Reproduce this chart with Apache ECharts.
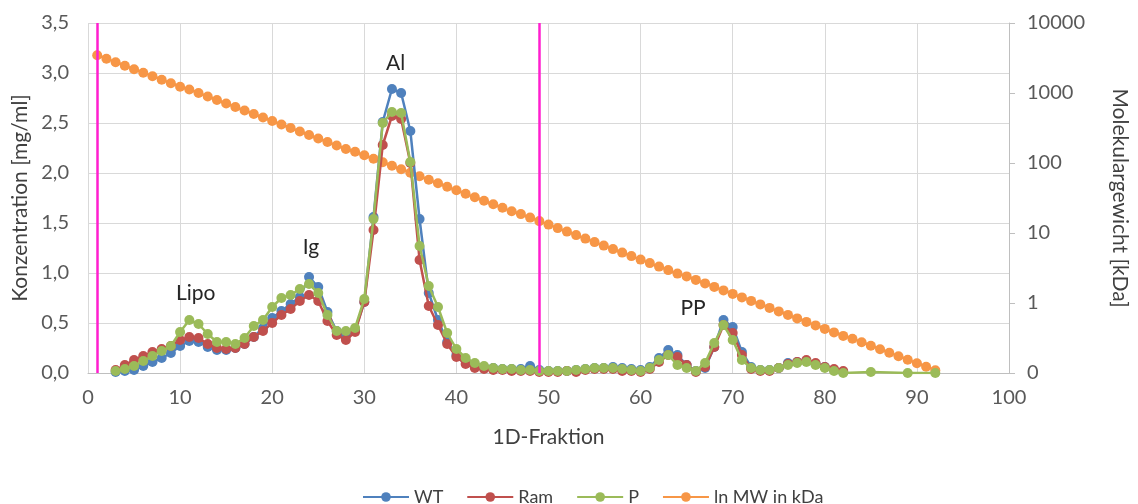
<!DOCTYPE html>
<html>
<head>
<meta charset="utf-8">
<script src="https://cdn.jsdelivr.net/npm/echarts@6/dist/echarts.min.js"></script>
<style>html,body{margin:0;padding:0;background:#fff;}#c{width:1138px;height:504px;}</style>
</head>
<body>
<div id="c"></div>
<script>
// Fractions for WT / Ram / P (3..82)
const fractions = [3,4,5,6,7,8,9,10,11,12,13,14,15,16,17,18,19,20,21,22,23,24,25,26,27,28,29,30,31,32,33,34,35,36,37,38,39,40,41,42,43,44,45,46,47,48,49,50,51,52,53,54,55,56,57,58,59,60,61,62,63,64,65,66,67,68,69,70,71,72,73,74,75,76,77,78,79,80,81,82];
const wtValues = [0.01,0.02,0.03,0.07,0.11,0.15,0.20,0.27,0.32,0.31,0.26,0.23,0.23,0.25,0.29,0.36,0.45,0.55,0.62,0.69,0.76,0.96,0.86,0.61,0.42,0.37,0.43,0.71,1.56,2.51,2.84,2.80,2.42,1.54,0.80,0.53,0.31,0.18,0.12,0.08,0.06,0.05,0.04,0.04,0.04,0.07,0.03,0.02,0.02,0.02,0.03,0.04,0.05,0.05,0.06,0.05,0.04,0.03,0.06,0.15,0.23,0.18,0.08,0.02,0.05,0.26,0.53,0.46,0.21,0.06,0.03,0.03,0.05,0.10,0.11,0.12,0.09,0.06,0.03,0.01];
const ramValues = [0.03,0.08,0.13,0.17,0.21,0.24,0.27,0.33,0.36,0.35,0.29,0.25,0.24,0.25,0.29,0.36,0.42,0.50,0.58,0.64,0.72,0.78,0.72,0.52,0.38,0.33,0.41,0.71,1.43,2.28,2.57,2.54,2.10,1.13,0.67,0.48,0.29,0.16,0.09,0.05,0.04,0.03,0.03,0.02,0.02,0.02,0.01,0.01,0.01,0.02,0.01,0.03,0.04,0.04,0.04,0.02,0.02,0.01,0.04,0.11,0.18,0.16,0.08,0.01,0.06,0.26,0.48,0.40,0.18,0.04,0.02,0.02,0.05,0.09,0.11,0.13,0.10,0.06,0.04,0.02];
const pValues = [0.02,0.04,0.07,0.12,0.17,0.22,0.27,0.41,0.53,0.49,0.39,0.31,0.31,0.29,0.35,0.47,0.53,0.66,0.75,0.78,0.84,0.89,0.80,0.58,0.42,0.42,0.45,0.74,1.54,2.50,2.61,2.60,2.11,1.27,0.87,0.66,0.40,0.24,0.15,0.10,0.07,0.05,0.04,0.04,0.03,0.03,0.02,0.02,0.02,0.02,0.03,0.04,0.05,0.05,0.05,0.04,0.03,0.02,0.05,0.13,0.18,0.08,0.05,0.02,0.10,0.30,0.48,0.33,0.13,0.05,0.03,0.03,0.05,0.08,0.10,0.11,0.08,0.05,0.02,0.00];
// Extra late fractions of P
const pExtraFractions = [85,89,92];
const pExtraValues = [0.01,0.00,0.00];
// ln MW series (secondary axis), fractions 1..92
const mwFractions = [1,2,3,4,5,6,7,8,9,10,11,12,13,14,15,16,17,18,19,20,21,22,23,24,25,26,27,28,29,30,31,32,33,34,35,36,37,38,39,40,41,42,43,44,45,46,47,48,49,50,51,52,53,54,55,56,57,58,59,60,61,62,63,64,65,66,67,68,69,70,71,72,73,74,75,76,77,78,79,80,81,82,83,84,85,86,87,88,89,90,91,92];
const mwValues = [4.54,4.49,4.44,4.39,4.34,4.29,4.24,4.19,4.14,4.09,4.05,4.00,3.95,3.90,3.85,3.80,3.75,3.70,3.65,3.60,3.55,3.50,3.45,3.40,3.35,3.30,3.25,3.20,3.16,3.11,3.06,3.01,2.96,2.91,2.86,2.81,2.76,2.71,2.66,2.61,2.56,2.51,2.46,2.41,2.36,2.31,2.27,2.22,2.17,2.12,2.07,2.02,1.97,1.92,1.87,1.82,1.77,1.72,1.67,1.62,1.57,1.52,1.47,1.42,1.38,1.33,1.28,1.23,1.18,1.13,1.08,1.03,0.98,0.93,0.88,0.83,0.78,0.73,0.68,0.63,0.58,0.53,0.49,0.44,0.39,0.34,0.29,0.24,0.19,0.14,0.09,0.04];
const rightTickLabels = ['0','1','10','100','1000','10000'];
const markerFractions = [1,49];
const annotations = [
  {text:'Lipo', x:11.7, y:0.80},
  {text:'Ig', x:24.2, y:1.26},
  {text:'Al', x:33.4, y:3.10},
  {text:'PP', x:65.7, y:0.65}
];

const pairs = (xs, ys) => xs.map((x,i)=>[x, ys[i]]);
const FONT = 'Lato';
const grey = '#595959';
const dark = '#404040';

const chart = echarts.init(document.getElementById('c'), null, {renderer:'canvas'});
const lineBase = {type:'line', symbol:'circle', symbolSize:10, lineStyle:{width:2.5}, animation:false};

chart.setOption({
  animation:false,
  textStyle:{fontFamily:FONT},
  grid:{left:88, right:128, top:23, bottom:131, containLabel:false},
  legend:{
    top:483, left:357, itemWidth:46, itemHeight:12, itemGap:23,
    textStyle:{fontFamily:FONT, fontSize:18, color:dark},
    data:['WT','Ram','P','ln MW in kDa']
  },
  xAxis:{
    type:'value', min:0, max:100, interval:10,
    name:'1D-Fraktion', nameLocation:'middle', nameGap:54,
    nameTextStyle:{fontFamily:FONT, fontSize:21, color:dark},
    axisLine:{show:true, lineStyle:{color:'#bfbfbf', width:1}},
    axisTick:{show:false},
    axisLabel:{fontFamily:FONT, fontSize:20, color:grey, margin:15},
    splitLine:{show:true, lineStyle:{color:'#d9d9d9', width:1}}
  },
  yAxis:[{
    type:'value', min:0, max:3.5, interval:0.5,
    name:'Konzentration [mg/ml]', nameLocation:'middle', nameGap:57, nameRotate:90,
    nameTextStyle:{fontFamily:FONT, fontSize:21, color:dark},
    axisLine:{show:false}, axisTick:{show:false},
    axisLabel:{fontFamily:FONT, fontSize:20, color:grey, margin:19,
      formatter:v=>v.toFixed(1).replace('.',',')},
    splitLine:{show:true, lineStyle:{color:'#d9d9d9', width:1}}
  },{
    type:'value', min:0, max:5, interval:1, position:'right',
    name:'Molekulargewicht [kDa]', nameLocation:'middle', nameGap:100, nameRotate:-90,
    nameTextStyle:{fontFamily:FONT, fontSize:21, color:dark},
    axisLine:{show:true, lineStyle:{color:'#bfbfbf', width:1}},
    axisTick:{show:true, inside:false, length:6, lineStyle:{color:'#bfbfbf'}},
    axisLabel:{fontFamily:FONT, fontSize:20, color:grey, margin:18,
      formatter:v=>rightTickLabels[Math.round(v)]},
    splitLine:{show:false}
  }],
  series:[
    Object.assign({}, lineBase, {
      name:'ln MW in kDa', yAxisIndex:1, z:1,
      itemStyle:{color:'#F79646'}, lineStyle:{width:2.5, color:'#F79646'},
      data:pairs(mwFractions, mwValues)
    }),
    Object.assign({}, lineBase, {
      name:'WT', z:2, itemStyle:{color:'#4F81BD'}, lineStyle:{width:2.5, color:'#4F81BD'},
      data:pairs(fractions, wtValues),
      markLine:{silent:true, symbol:['none','none'], label:{show:false},
        lineStyle:{color:'#FF1FCF', width:2.5, type:'solid'},
        data:markerFractions.map(x=>({xAxis:x}))}
    }),
    Object.assign({}, lineBase, {
      name:'Ram', z:3, itemStyle:{color:'#C0504D'}, lineStyle:{width:2.5, color:'#C0504D'},
      data:pairs(fractions, ramValues)
    }),
    Object.assign({}, lineBase, {
      name:'P', z:4, itemStyle:{color:'#9BBB59'}, lineStyle:{width:2.5, color:'#9BBB59'},
      data:pairs(fractions.concat(pExtraFractions), pValues.concat(pExtraValues)),
      markPoint:{silent:true, symbol:'rect', symbolSize:1, itemStyle:{color:'rgba(0,0,0,0)'},
        label:{show:true, position:'inside', fontFamily:FONT, fontSize:21, color:'#262626',
          formatter:p=>p.name},
        data:annotations.map(a=>({name:a.text, coord:[a.x, a.y]}))}
    })
  ]
});
</script>
</body>
</html>
